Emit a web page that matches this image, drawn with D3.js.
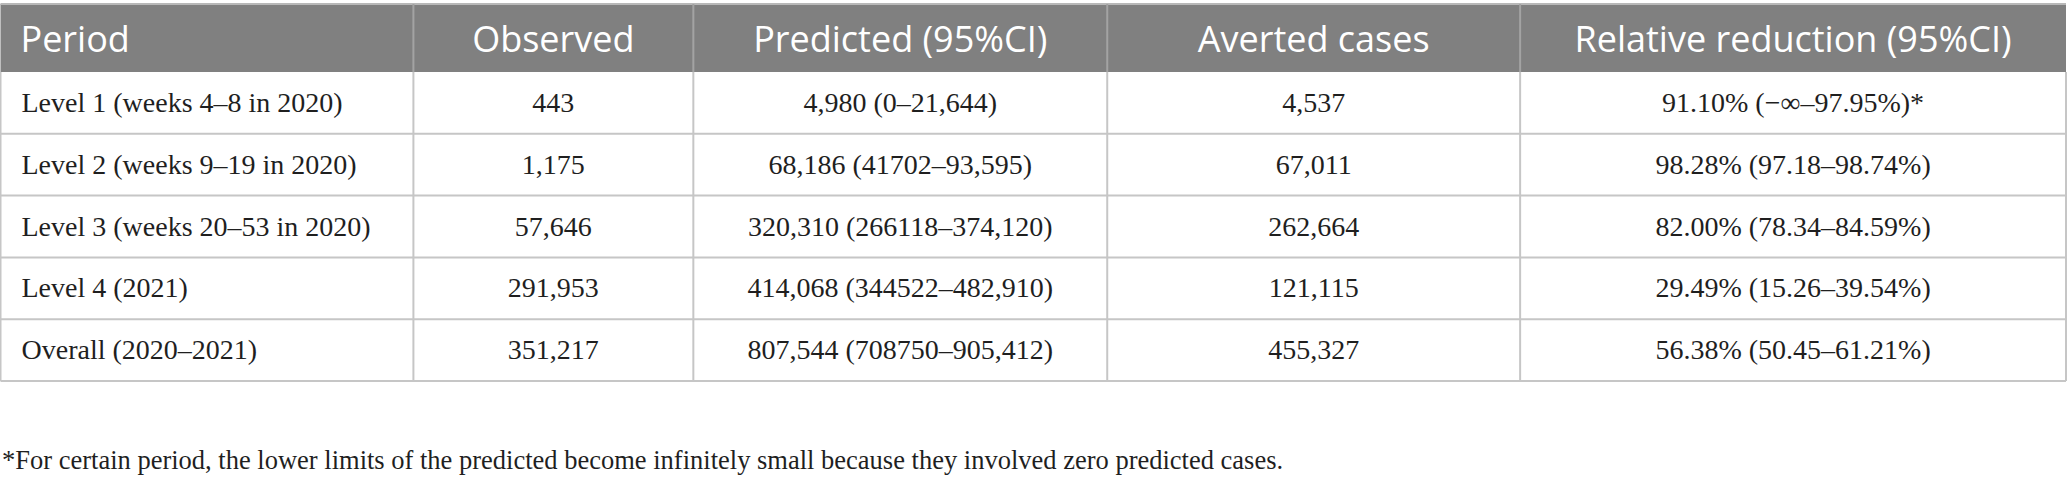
<!DOCTYPE html>
<html>
<head>
<meta charset="utf-8">
<script src="https://cdn.jsdelivr.net/npm/d3@7"></script>
<style>
  html, body { margin: 0; padding: 0; background: #fff; }
  svg { display: block; }
</style>
</head>
<body>
<svg id="table"></svg>
<script>
// table content
const headers = ["Period", "Observed", "Predicted (95%CI)", "Averted cases", "Relative reduction (95%CI)"];
const periods = ["Level 1 (weeks 4–8 in 2020)", "Level 2 (weeks 9–19 in 2020)", "Level 3 (weeks 20–53 in 2020)", "Level 4 (2021)", "Overall (2020–2021)"];
const observed = ["443", "1,175", "57,646", "291,953", "351,217"];
const predicted = ["4,980 (0–21,644)", "68,186 (41702–93,595)", "320,310 (266118–374,120)", "414,068 (344522–482,910)", "807,544 (708750–905,412)"];
const averted = ["4,537", "67,011", "262,664", "121,115", "455,327"];
const reduction = ["91.10% (−∞–97.95%)*", "98.28% (97.18–98.74%)", "82.00% (78.34–84.59%)", "29.49% (15.26–39.54%)", "56.38% (50.45–61.21%)"];
const footnote = "*For certain period, the lower limits of the predicted become infinitely small because they involved zero predicted cases.";

// layout
const width = 2067, height = 485;
const tableLeft = 0.5, tableRight = 2066;
const headerTop = 4, headerBottom = 72, tableBottom = 381;
const colWeights = [413, 280, 414, 413, 546];

const rows = periods.map((p, i) => [p, observed[i], predicted[i], averted[i], reduction[i]]);

const svg = d3.select("#table")
  .attr("width", width)
  .attr("height", height)
  .attr("viewBox", [0, 0, width, height]);

// column edges from weights
const edges = [0, ...d3.cumsum(colWeights)];
const x = d3.scaleLinear([0, d3.sum(colWeights)], [tableLeft, tableRight]);
const colX0 = edges.slice(0, -1).map(x), colX1 = edges.slice(1).map(x);

const y = d3.scaleBand(d3.range(rows.length), [headerBottom, tableBottom]);

// header
svg.append("rect")
  .attr("x", tableLeft).attr("y", headerTop)
  .attr("width", tableRight - tableLeft).attr("height", headerBottom - headerTop)
  .attr("fill", "#808080");

svg.append("line")
  .attr("x1", tableLeft).attr("x2", tableRight)
  .attr("y1", headerTop).attr("y2", headerTop)
  .attr("stroke", "#b8b8b8").attr("stroke-width", 2);

svg.append("g")
  .selectAll("line")
  .data(colX0.slice(1))
  .join("line")
    .attr("x1", d => d).attr("x2", d => d)
    .attr("y1", headerTop).attr("y2", headerBottom)
    .attr("stroke", "#a3a3a3").attr("stroke-width", 2);

svg.append("g")
  .attr("font-family", "'Open Sans', sans-serif")
  .attr("font-size", 36)
  .attr("fill", "#fff")
  .selectAll("text")
  .data(headers)
  .join("text")
    .attr("x", (d, i) => i === 0 ? colX0[i] + 20 : (colX0[i] + colX1[i]) / 2)
    .attr("y", 52)
    .attr("text-anchor", (d, i) => i === 0 ? "start" : "middle")
    .text(d => d);

// body grid
const grid = svg.append("g")
  .attr("stroke", "#c6c6c6")
  .attr("stroke-width", 2);

grid.selectAll(".hline")
  .data(d3.range(rows.length))
  .join("line")
    .attr("class", "hline")
    .attr("x1", tableLeft).attr("x2", tableRight)
    .attr("y1", d => y(d) + y.bandwidth())
    .attr("y2", d => y(d) + y.bandwidth());

grid.selectAll(".vline")
  .data([tableLeft, ...colX0.slice(1), tableRight])
  .join("line")
    .attr("class", "vline")
    .attr("x1", d => d).attr("x2", d => d)
    .attr("y1", headerBottom).attr("y2", tableBottom);

// body text
svg.append("g")
  .attr("font-family", "'Liberation Serif', 'Times New Roman', serif")
  .attr("font-size", 28)
  .attr("fill", "#1f1f1f")
  .selectAll("g")
  .data(rows)
  .join("g")
    .attr("transform", (d, i) => `translate(0,${y(i) + 40})`)
  .selectAll("text")
  .data(d => d)
  .join("text")
    .attr("x", (d, i) => i === 0 ? colX0[i] + 21 : (colX0[i] + colX1[i]) / 2)
    .attr("text-anchor", (d, i) => i === 0 ? "start" : "middle")
    .text(d => d);

// footnote
svg.append("text")
  .attr("x", 2)
  .attr("y", 469)
  .attr("font-family", "'Liberation Serif', 'Times New Roman', serif")
  .attr("font-size", 26.5)
  .attr("fill", "#1f1f1f")
  .text(footnote);
</script>
</body>
</html>
